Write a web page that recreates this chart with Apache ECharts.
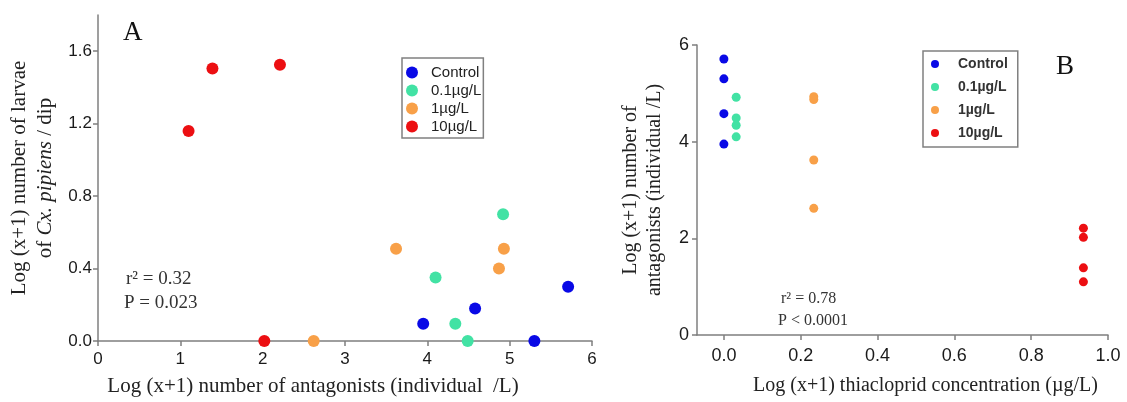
<!DOCTYPE html>
<html>
<head>
<meta charset="utf-8">
<script src="https://cdn.jsdelivr.net/npm/echarts@6/dist/echarts.min.js"></script>
<style>html,body{margin:0;padding:0;background:#fff}#c{width:1127px;height:402px}</style>
</head>
<body>
<div id="c"></div>
<script>
// ---- data ----
const groups = ['Control', '0.1µg/L', '1µg/L', '10µg/L'];
// thiacloprid concentration, log(x+1), as plotted in panel B
const concentration = [0, 0.032, 0.234, 0.936];
// antagonists, log(x+1) individual/L
const controlAntagonists = [5.71, 5.30, 4.58, 3.95];
const c01Antagonists = [4.92, 4.49, 4.34, 4.10];
const c1Antagonists = [4.93, 4.87, 3.62, 2.62];
const c10Antagonists = [2.21, 2.02, 1.39, 1.10];
// larvae of Cx. pipiens, log(x+1) per dip (same order as antagonists)
const controlLarvae = [0.30, 0.00, 0.18, 0.095];
const c01Larvae = [0.70, 0.00, 0.095, 0.35];
const c1Larvae = [0.51, 0.40, 0.51, 0.00];
const c10Larvae = [1.525, 0.00, 1.505, 1.16];
// tick labels
const xTicksA = [0, 1, 2, 3, 4, 5, 6];
const yTicksA = [0, 0.4, 0.8, 1.2, 1.6];
const xTicksB = [0, 0.2, 0.4, 0.6, 0.8, 1.0];
const yTicksB = [0, 2, 4, 6];
// statistics
const statsA = ['r² = 0.32', 'P = 0.023'];
const statsB = ['r² = 0.78', 'P < 0.0001'];

// ---- styles ----
const palette = ['#0909e6', '#42e2a4', '#f8a048', '#ec0f12'];
const serif = '"Liberation Serif","Times New Roman",serif';
const sans = '"Liberation Sans",Arial,sans-serif';
const axisCol = '#7f7f7f';

const antagonists = [controlAntagonists, c01Antagonists, c1Antagonists, c10Antagonists];
const larvae = [controlLarvae, c01Larvae, c1Larvae, c10Larvae];

const series = [];
groups.forEach((g, i) => {
  series.push({
    name: g, type: 'scatter', xAxisIndex: 0, yAxisIndex: 0,
    symbolSize: 12, itemStyle: {color: palette[i], opacity: 1},
    data: antagonists[i].map((a, k) => [a, larvae[i][k]])
  });
});
groups.forEach((g, i) => {
  series.push({
    name: g, type: 'scatter', xAxisIndex: 1, yAxisIndex: 1,
    symbolSize: 9, itemStyle: {color: palette[i], opacity: 1},
    data: antagonists[i].map(a => [concentration[i], a])
  });
});

const axisBase = {
  axisLine: {show: true, onZero: false, lineStyle: {color: axisCol, width: 1.5}},
  axisTick: {show: true, inside: false, length: 5, lineStyle: {color: axisCol, width: 1.5}},
  splitLine: {show: false},
  axisLabel: {color: '#1a1a1a', fontFamily: sans, fontSize: 17}
};

const chart = echarts.init(document.getElementById('c'), null, {renderer: 'canvas'});
chart.setOption({
  animation: false,
  backgroundColor: '#fff',
  grid: [
    {left: 98, right: 535, top: 15, bottom: 58},
    {left: 697, right: 19, top: 45, bottom: 67}
  ],
  xAxis: [
    Object.assign({}, axisBase, {
      gridIndex: 0, type: 'value', min: 0, max: 6, interval: 1,
      axisLabel: Object.assign({}, axisBase.axisLabel, {margin: 10, customValues: xTicksA}),
      name: 'Log (x+1) number of antagonists (individual  /L)',
      nameLocation: 'middle', nameGap: 35,
      nameTextStyle: {fontFamily: serif, fontSize: 21, color: '#222', padding: [0, 64, 0, 0]}
    }),
    Object.assign({}, axisBase, {
      gridIndex: 1, type: 'value', min: -0.07, max: 1.0,
      axisTick: Object.assign({}, axisBase.axisTick, {customValues: xTicksB}),
      axisLabel: Object.assign({}, axisBase.axisLabel, {fontSize: 18, margin: 12, customValues: xTicksB, formatter: v => v.toFixed(1)}),
      name: 'Log (x+1) thiacloprid concentration (µg/L)',
      nameLocation: 'middle', nameGap: 41,
      nameTextStyle: {fontFamily: serif, fontSize: 20, color: '#222', padding: [0, 0, 0, 46]}
    })
  ],
  yAxis: [
    Object.assign({}, axisBase, {
      gridIndex: 0, type: 'value', min: 0, max: 1.8,
      axisTick: Object.assign({}, axisBase.axisTick, {customValues: yTicksA}),
      axisLabel: Object.assign({}, axisBase.axisLabel, {margin: 6, customValues: yTicksA, formatter: v => v.toFixed(1)}),
      name: '{a|Log (x+1) number of larvae}\n{a|of }{i|Cx. pipiens}{a| / dip}',
      nameLocation: 'middle', nameRotate: 90, nameGap: 40,
      nameTextStyle: {
        fontFamily: serif, fontSize: 21, color: '#222', lineHeight: 26,
        rich: {
          a: {fontFamily: serif, fontSize: 21, color: '#222', lineHeight: 26},
          i: {fontFamily: serif, fontSize: 21, color: '#222', lineHeight: 26, fontStyle: 'italic'}
        }
      }
    }),
    Object.assign({}, axisBase, {
      gridIndex: 1, type: 'value', min: 0, max: 6, interval: 2,
      axisLabel: Object.assign({}, axisBase.axisLabel, {fontSize: 18, margin: 8, customValues: yTicksB}),
      name: 'Log (x+1) number of\nantagonists (individual /L)',
      nameLocation: 'middle', nameRotate: 90, nameGap: 30,
      nameTextStyle: {fontFamily: serif, fontSize: 20, color: '#222', lineHeight: 24}
    })
  ],
  legend: [
    {
      data: groups, orient: 'vertical', left: 402, top: 58,
      icon: 'circle', itemWidth: 12, itemHeight: 12, itemGap: 3,
      padding: [7, 2, 4, 4],
      borderColor: '#808080', borderWidth: 1.5, borderRadius: 0,
      selectedMode: false,
      textStyle: {fontFamily: sans, fontSize: 15, color: '#222', padding: [0, 0, 0, 8]}
    },
    {
      data: groups, orient: 'vertical', left: 923, top: 51,
      icon: 'circle', itemWidth: 8, itemHeight: 8, itemGap: 9,
      padding: [6, 10, 7, 8],
      borderColor: '#808080', borderWidth: 1.5, borderRadius: 0,
      selectedMode: false,
      textStyle: {fontFamily: sans, fontSize: 14, fontWeight: 'bold', color: '#333', padding: [0, 0, 0, 14]}
    }
  ],
  graphic: [
    {type: 'text', left: 123, top: 19, style: {text: 'A', font: '27px ' + serif, fill: '#111'}},
    {type: 'text', left: 1056, top: 53, style: {text: 'B', font: '27px ' + serif, fill: '#111'}},
    {type: 'text', left: 126, top: 270, style: {text: statsA[0], font: '19px ' + serif, fill: '#333'}},
    {type: 'text', left: 124, top: 294, style: {text: statsA[1], font: '19px ' + serif, fill: '#333'}},
    {type: 'text', left: 781, top: 291, style: {text: statsB[0], font: '16px ' + serif, fill: '#333'}},
    {type: 'text', left: 778, top: 313, style: {text: statsB[1], font: '16px ' + serif, fill: '#333'}}
  ],
  series: series
});
</script>
</body>
</html>
